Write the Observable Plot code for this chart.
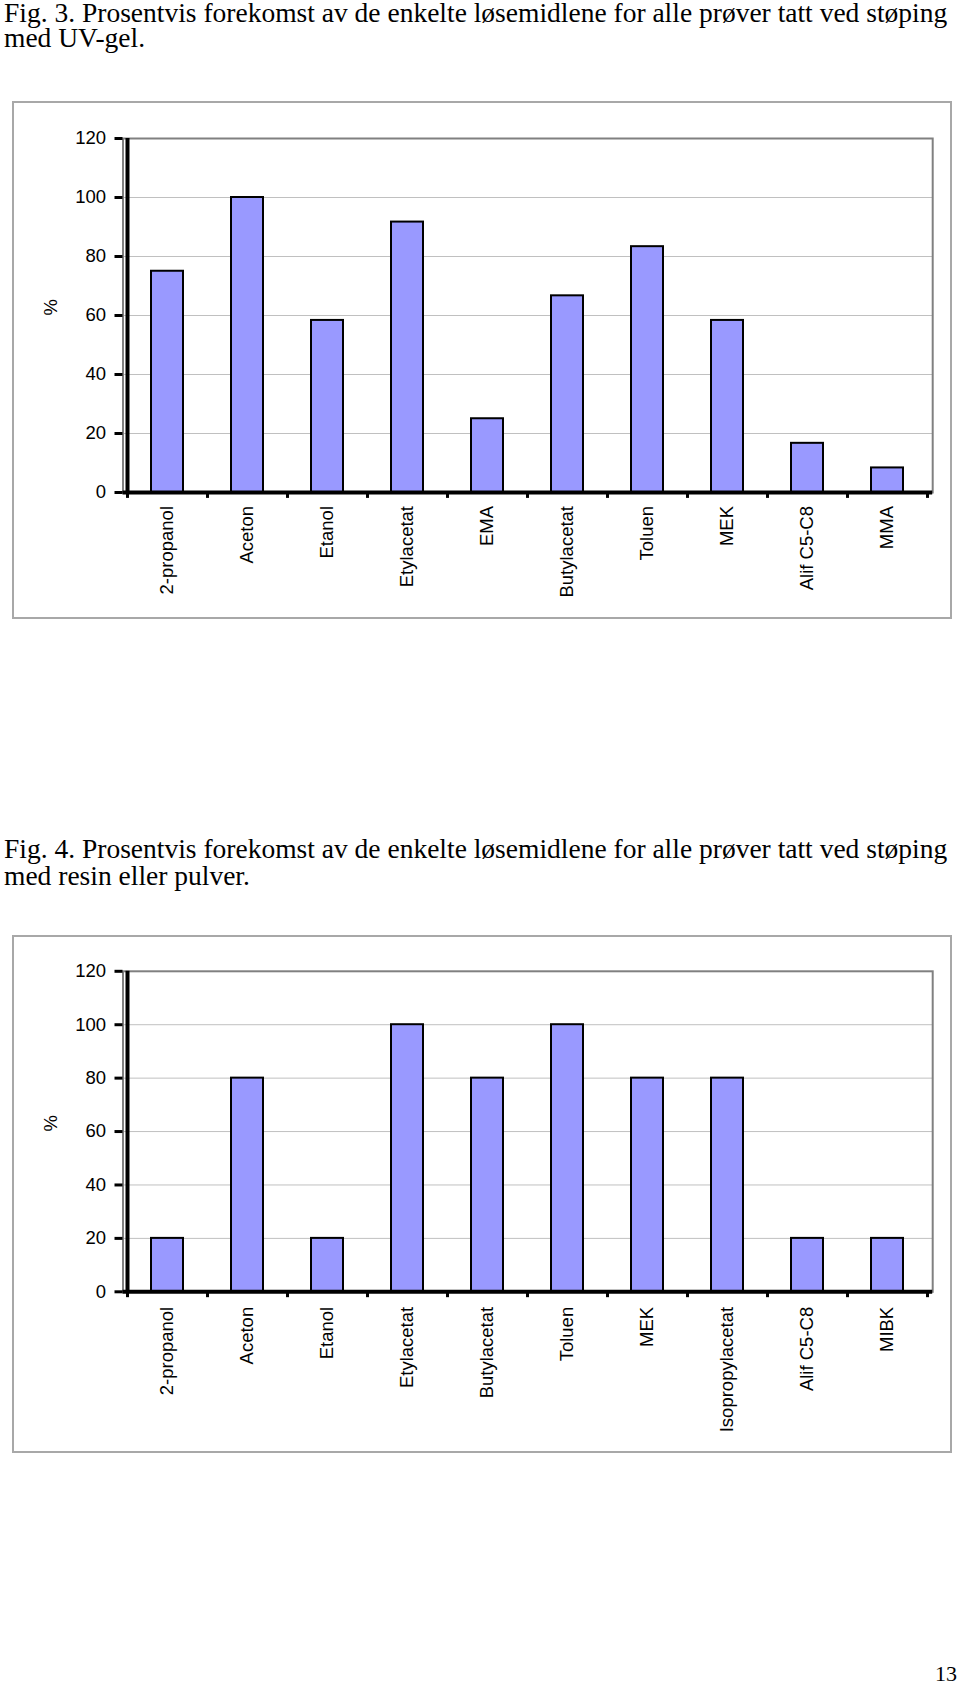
<!DOCTYPE html>
<html>
<head>
<meta charset="utf-8">
<script src="https://cdn.jsdelivr.net/npm/d3@7"></script>
<script src="https://cdn.jsdelivr.net/npm/@observablehq/plot@0.6"></script>
<style>
  html, body { margin: 0; padding: 0; background: #fff; }
  body { position: relative; width: 960px; height: 1686px; overflow: hidden; }
  .title { position: absolute; left: 4px; font-family: "Liberation Serif", "Times New Roman", serif; font-size: 27.5px; white-space: nowrap; color: #000; }
  #t3 { top: 1.3px; line-height: 24.3px; }
  #t4 { top: 835.2px; line-height: 27px; }
  .chart { position: absolute; left: 12.5px; }
  #c3 { top: 101.5px; }
  #c4 { top: 935.5px; }
  #page { position: absolute; right: 3px; top: 1663.3px; font-family: "Liberation Serif", "Times New Roman", serif; font-size: 22px; line-height: 22px; }
</style>
</head>
<body>
<div class="title" id="t3">Fig. 3. Prosentvis forekomst av de enkelte løsemidlene for alle prøver tatt ved støping<br>med UV-gel.</div>
<div class="chart" id="c3"></div>
<div class="title" id="t4">Fig. 4. Prosentvis forekomst av de enkelte løsemidlene for alle prøver tatt ved støping<br>med resin eller pulver.</div>
<div class="chart" id="c4"></div>
<div id="page">13</div>
<script>
// ---- Data ----
const fig3Categories = ["2-propanol", "Aceton", "Etanol", "Etylacetat", "EMA", "Butylacetat", "Toluen", "MEK", "Alif C5-C8", "MMA"];
const fig3Values = [75, 100, 58.33, 91.67, 25, 66.67, 83.33, 58.33, 16.67, 8.33];

const fig4Categories = ["2-propanol", "Aceton", "Etanol", "Etylacetat", "Butylacetat", "Toluen", "MEK", "Isopropylacetat", "Alif C5-C8", "MIBK"];
const fig4Values = [20, 80, 20, 100, 80, 100, 80, 80, 20, 20];

const yTicks = [0, 20, 40, 60, 80, 100, 120];
const yLabel = "%";

function drawChart(categories, values, opts) {
  const data = categories.map((c, i) => ({name: c, value: values[i]}));
  const base = {
    width: 938,
    height: 516,
    marginLeft: 109.5,
    marginRight: 18.8,
    marginTop: opts.marginTop,
    marginBottom: opts.marginBottom,
    x: {domain: categories, padding: 0},
    y: {domain: [yTicks[0], yTicks[yTicks.length - 1]]},
    style: {fontFamily: "'Liberation Sans', Arial, sans-serif", fontSize: "18.5px", color: "#000", background: "#fff", overflow: "visible"}
  };
  const probe = Plot.plot({...base, marks: [Plot.barY(data, {x: "name", y: "value"})]});
  const bw = probe.scale("x").bandwidth;
  const yMin = yTicks[0], yMax = yTicks[yTicks.length - 1];
  const grid = yTicks.filter(v => v > yMin && v < yMax);
  const svg = Plot.plot({
    ...base,
    marks: [
      Plot.ruleY(grid, {stroke: "#c0c0c0", strokeWidth: 1}),
      Plot.frame({stroke: "#808080", strokeWidth: 2}),
      Plot.barY(data, {x: "name", y: "value", fill: "#9999ff", stroke: "#000", strokeWidth: 2, insetLeft: bw * 0.3, insetRight: bw * 0.3}),
      Plot.ruleY([yMin], {stroke: "#000", strokeWidth: 4}),
      Plot.ruleX([categories[0]], {y1: yMin, y2: yMax, dx: -bw / 2, stroke: "#000", strokeWidth: 4}),
      Plot.ruleX(categories, {y1: yMin, y2: yMin - opts.tickUnits, dx: -bw / 2, stroke: "#000", strokeWidth: 3}),
      Plot.ruleX([categories[categories.length - 1]], {y1: yMin, y2: yMin - opts.tickUnits, dx: bw / 2, stroke: "#000", strokeWidth: 3}),
      Plot.axisY({ticks: yTicks, tickSize: 8, tickPadding: 9, strokeWidth: 3, label: null, fontSize: 18.5}),
      Plot.axisX({tickSize: 0, tickPadding: opts.labelPad, tickRotate: -90, label: null, fontSize: 18.5}),
      Plot.text([yLabel], {frameAnchor: "left", dx: -72, rotate: -90, fontSize: 18.5})
    ]
  });
  svg.style.outline = "2px solid #a8a8a8";
  svg.style.outlineOffset = "-1px";
  return svg;
}

document.getElementById("c3").appendChild(drawChart(fig3Categories, fig3Values, {marginTop: 36, marginBottom: 126, labelPad: 13.5, tickUnits: 2}));
document.getElementById("c4").appendChild(drawChart(fig4Categories, fig4Values, {marginTop: 34.8, marginBottom: 160.7, labelPad: 15, tickUnits: 2.2}));
</script>
</body>
</html>
